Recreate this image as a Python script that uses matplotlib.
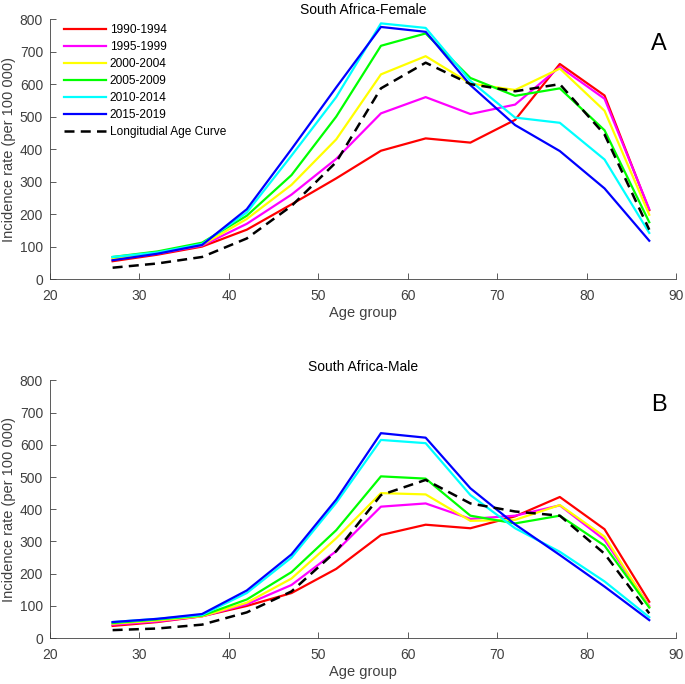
import matplotlib
matplotlib.use("Agg")
import matplotlib.pyplot as plt

plt.rcParams["font.family"] = ["Liberation Sans", "DejaVu Sans"]

ages = [27, 32, 37, 42, 47, 52, 57, 62, 67, 72, 77, 82, 87]
periods = ["1990-1994", "1995-1999", "2000-2004", "2005-2009", "2010-2014", "2015-2019"]
colors = ["#ff0000", "#ff00ff", "#ffff00", "#00ff00", "#00ffff", "#0000ff"]

female = [
    [55, 75, 100, 152, 230, 310, 395, 433, 420, 490, 662, 565, 212],
    [60, 78, 103, 170, 260, 370, 510, 560, 508, 537, 653, 555, 215],
    [63, 80, 105, 185, 290, 430, 630, 686, 602, 582, 648, 518, 198],
    [68, 85, 112, 195, 320, 500, 718, 756, 619, 564, 587, 458, 175],
    [68, 82, 108, 205, 380, 560, 787, 773, 610, 497, 481, 368, 142],
    [58, 78, 105, 215, 400, 590, 776, 761, 597, 474, 394, 279, 118],
]
female_age_curve = [35, 48, 68, 125, 225, 360, 587, 666, 600, 578, 600, 445, 152]

male = [
    [38, 50, 68, 100, 140, 215, 320, 352, 341, 378, 438, 338, 113],
    [42, 52, 68, 105, 165, 270, 408, 418, 370, 380, 412, 305, 100],
    [45, 55, 68, 110, 185, 310, 450, 446, 364, 367, 413, 315, 97],
    [47, 58, 70, 120, 205, 335, 502, 495, 380, 356, 380, 287, 95],
    [50, 60, 72, 140, 250, 420, 615, 605, 444, 341, 268, 176, 65],
    [50, 60, 75, 148, 260, 430, 636, 622, 465, 353, 258, 160, 56],
]
male_age_curve = [25, 30, 42, 80, 145, 270, 444, 491, 418, 393, 380, 262, 77]

fig = plt.figure(figsize=(6.85, 6.84), dpi=100)
ax_top = fig.add_axes([0.073, 0.592, 0.914, 0.380])
ax_bot = fig.add_axes([0.073, 0.067, 0.914, 0.377])

panels = [
    (ax_top, female, female_age_curve, "South Africa-Female", "A", 4),
    (ax_bot, male, male_age_curve, "South Africa-Male", "B", 7),
]

grey = "#404040"
for ax, series, curve, title, letter, tpad in panels:
    for label, vals, c in zip(periods, series, colors):
        ax.plot(ages, vals, color=c, lw=1.6, label=label)
    ax.plot(ages, curve, color="black", lw=1.8, ls=(0, (4, 2.5)),
            label="Longitudial Age Curve")
    ax.set_xlim(20, 90)
    ax.set_ylim(0, 800)
    ax.set_xticks(range(20, 91, 10))
    ax.set_yticks(range(0, 801, 100))
    for s in ["top", "right"]:
        ax.spines[s].set_visible(False)
    for s in ["left", "bottom"]:
        ax.spines[s].set_color(grey)
        ax.spines[s].set_linewidth(0.6)
    ax.tick_params(direction="in", length=4, width=0.6, colors=grey, labelsize=10)
    ax.tick_params(axis="x", pad=7)
    ax.tick_params(axis="y", pad=5)
    ax.set_xlabel("Age group", fontsize=10.5, color=grey, labelpad=2)
    ax.set_ylabel("Incidence rate (per 100 000)", fontsize=10.5, color=grey, labelpad=3)
    ax.set_title(title, fontsize=10, color="black", pad=tpad)
    ax.text(0.973, 0.905, letter, transform=ax.transAxes, fontsize=17,
            ha="center", va="center")

ax_top.legend(loc="upper left", bbox_to_anchor=(0.015, 1.0), frameon=False,
              fontsize=8.6, handlelength=3.5, labelspacing=0.42, handletextpad=0.3,
              borderaxespad=0.0)

fig.savefig("out.png", dpi=100)
